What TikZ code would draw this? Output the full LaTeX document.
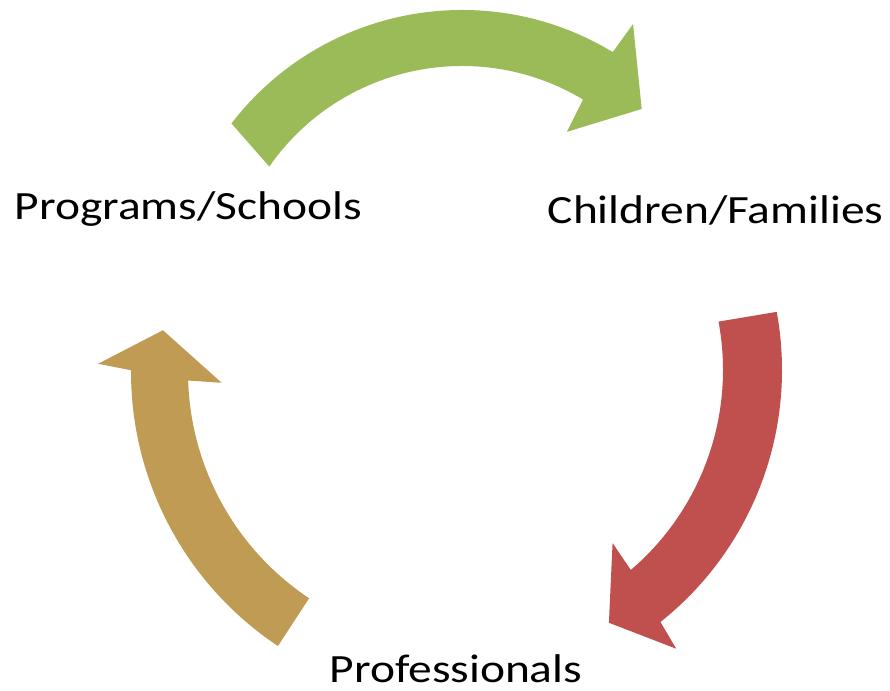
\documentclass[tikz,border=0pt]{standalone}
\usepackage{fontspec}
\setmainfont{Carlito}[FakeStretch=1.185]
\definecolor{arrowgreen}{RGB}{155,187,89}
\definecolor{arrowred}{RGB}{192,80,77}
\definecolor{arrowtan}{RGB}{191,155,84}
\begin{document}
\begin{tikzpicture}[label/.style={anchor=base west, inner sep=0pt, font=\fontsize{11.4}{13}\selectfont}]
	\useasboundingbox (0,0) rectangle (8.9,6.91);

	\begin{scope}[shift={(4.62,3.90)}]
		\fill[arrowgreen] (142.4:2.91) arc[start angle=142.4, end angle=58.8, radius=2.91]
			-- (58.3:3.255) -- (46.9:2.63) -- (58.2:1.99) -- (59:2.35)
			arc[start angle=59, end angle=145.1, radius=2.35] -- cycle;
	\end{scope}

	\begin{scope}[shift={(4.60,3.21)}]
		\fill[arrowred] (10.4:3.22) arc[start angle=10.4, end angle=-51.5, radius=3.22]
			-- (-52.2:3.528) -- (-59.5:2.934) -- (-48.6:2.307) -- (-49.5:2.63)
			arc[start angle=-49.5, end angle=10.6, radius=2.63] -- cycle;
	\end{scope}

	\begin{scope}[shift={(4.60,3.19)}]
		\fill[arrowtan] (236.4:3.29) arc[start angle=236.4, end angle=179.7, radius=3.29]
			-- (178.7:3.62) -- (172:3.00) -- (182.6:2.386) -- (181.8:2.72)
			arc[start angle=181.8, end angle=236.3, radius=2.72] -- cycle;
	\end{scope}

	\node[label] (programs) at (0.14,4.71) {Programs/Schools};
	\node[label] (children) at (5.47,4.67) {Children/Families};
	\node[label] (professionals) at (3.29,0.08) {Professionals};
\end{tikzpicture}
\end{document}
